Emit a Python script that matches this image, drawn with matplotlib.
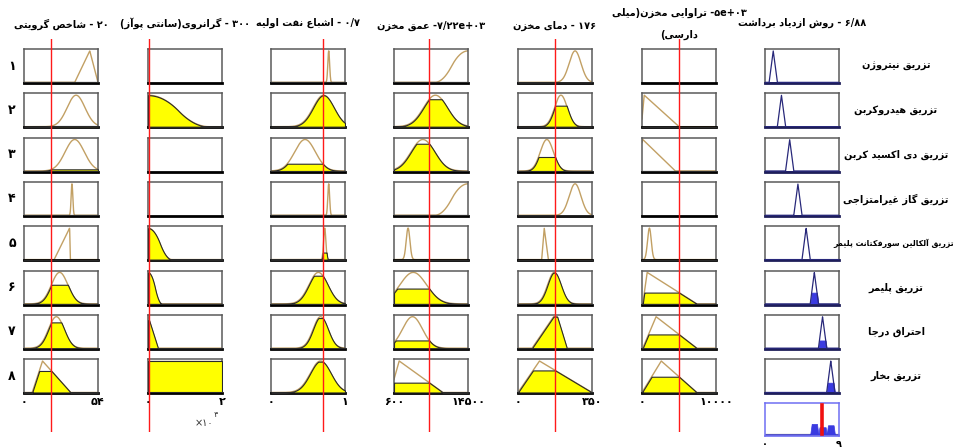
# -*- coding: utf-8 -*-
import matplotlib
matplotlib.use('Agg')
import matplotlib.pyplot as plt
import numpy as np

plt.rcParams['font.family'] = ['DejaVu Sans']

# 1. 数据
# -----------------------------------------------------------
input_names = ['شاخص گرویتی', 'گرانروی(سانتی پوآز)', 'اشباع نفت اولیه',
               'عمق مخزن', 'دمای مخزن', 'تراوایی مخزن(میلی']
title_numbers = ['۲۰', '۳۰۰', '۰/۷', '۷/۲۲e+۰۳', '۱۷۶', '۵e+۰۳']
input_values = [20, 300, 0.7, 7220, 176, 5000]
input_ranges = [(0, 54), (0, 20000), (0, 1), (600, 14500), (0, 350), (0, 10000)]
tick_labels = [('۰', '۵۴'), ('۰', '۲'), ('۰', '۱'), ('۶۰۰', '۱۴۵۰۰'),
               ('۰', '۳۵۰'), ('۰', '۱۰۰۰۰')]

# membership functions per input, one per rule (None = not used)
gravity_mfs = [('tri', [37, 48, 54]), ('gauss', [38, 6.5]), ('gauss', [37, 7]),
               ('gauss', [35, 0.6]), ('tri', [22, 33.3, 33.8]), ('gauss', [26, 6]),
               ('gauss', [23.6, 5.7]), ('tri', [6, 13.5, 34])]
viscosity_mfs = [None, ('zmf', [0, 16500]), None, None, ('zmf', [0, 6500]),
                 ('zmf', [0, 3800]), ('tri', [-1, 0, 2700]), ('const', [1])]
saturation_mfs = [('gauss', [0.78, 0.012]), ('gauss', [0.71, 0.14]),
                  ('gauss', [0.46, 0.14]), ('gauss', [0.78, 0.012]),
                  ('gauss', [0.726, 0.015]), ('gauss', [0.64, 0.127]),
                  ('gauss', [0.67, 0.1]), ('gauss', [0.67, 0.14])]
depth_mfs = [('smf', [8245, 14500]), ('gauss', [8384, 2224]), ('gauss', [6021, 2224]),
             ('smf', [8245, 14500]), ('gauss', [3241, 348]), ('gauss', [4214, 2502]),
             ('gauss', [4075, 1877]), ('tri', [-95, 1573, 9774])]
temperature_mfs = [('gauss', [270, 28]), ('gauss', [203, 30]), ('gauss', [136.5, 31]),
                   ('gauss', [270, 28]), ('tri', [112, 124, 143.5]),
                   ('gauss', [171.5, 31.5]), ('trap', [66.5, 168, 185.5, 231]),
                   ('tri', [0, 101.5, 350])]
permeability_mfs = [None, ('tri', [-100, 300, 5000]), ('tri', [-1000, 100, 4500]), None,
                    ('gauss', [1000, 250]), ('tri', [100, 700, 7400]),
                    ('tri', [100, 1900, 7400]), ('tri', [0, 2600, 7400])]
all_input_mfs = [gravity_mfs, viscosity_mfs, saturation_mfs, depth_mfs,
                 temperature_mfs, permeability_mfs]

output_name = 'روش ازدیاد برداشت'
output_number = '۶/۸۸'
output_value = 6.88
output_range = (0, 9)
output_mfs = [('tri', [0.5, 1, 1.5]), ('tri', [1.5, 2, 2.5]), ('tri', [2.5, 3, 3.5]),
              ('tri', [3.5, 4, 4.5]), ('tri', [4.5, 5, 5.5]), ('tri', [5.5, 6, 6.5]),
              ('tri', [6.5, 7, 7.5]), ('tri', [7.5, 8, 8.5])]
rule_numbers = ['۱', '۲', '۳', '۴', '۵', '۶', '۷', '۸']
rule_labels = ['تزریق نیتروژن', 'تزریق هیدروکربن', 'تزریق دی اکسید کربن',
               'تزریق گاز غیرامتزاجی', 'تزریق آلکالین سورفکتانت پلیمر',
               'تزریق پلیمر', 'احتراق درجا', 'تزریق بخار']


# 2. 波斯文字形处理 (matplotlib 不做阿拉伯文连写)
# -----------------------------------------------------------
_DUAL = {'ب': 0xFE8F, 'ت': 0xFE95, 'ث': 0xFE99, 'ج': 0xFE9D, 'ح': 0xFEA1,
         'خ': 0xFEA5, 'س': 0xFEB1, 'ش': 0xFEB5, 'ص': 0xFEB9, 'ض': 0xFEBD,
         'ط': 0xFEC1, 'ظ': 0xFEC5, 'ع': 0xFEC9, 'غ': 0xFECD, 'ف': 0xFED1,
         'ق': 0xFED5, 'ل': 0xFEDD, 'م': 0xFEE1, 'ن': 0xFEE5, 'ه': 0xFEE9,
         'پ': 0xFB56, 'چ': 0xFB7A, 'ک': 0xFB8E, 'گ': 0xFB92, 'ی': 0xFBFC}
_RIGHT = {'ا': 0xFE8D, 'آ': 0xFE81, 'د': 0xFEA9, 'ذ': 0xFEAB, 'ر': 0xFEAD,
          'ز': 0xFEAF, 'ژ': 0xFB8A, 'و': 0xFEED}


def fa(s):
    out = []
    for i, ch in enumerate(s):
        prev = s[i - 1] if i > 0 else ''
        nxt = s[i + 1] if i + 1 < len(s) else ''
        jp = prev in _DUAL
        if ch in _DUAL:
            jn = nxt in _DUAL or nxt in _RIGHT
            k = 3 if (jp and jn) else 1 if jp else 2 if jn else 0
            out.append(chr(_DUAL[ch] + k))
        elif ch in _RIGHT:
            out.append(chr(_RIGHT[ch] + (1 if jp else 0)))
        else:
            out.append({'(': ')', ')': '('}.get(ch, ch))
    return ''.join(reversed(out))


# 3. 隶属函数
# -----------------------------------------------------------
def mf_eval(mf, x):
    kind, p = mf
    x = np.asarray(x, dtype=float)
    if kind == 'gauss':
        return np.exp(-(x - p[0]) ** 2 / (2 * p[1] ** 2))
    if kind == 'tri':
        return np.interp(x, p, [0, 1, 0], left=0, right=0)
    if kind == 'trap':
        return np.interp(x, p, [0, 1, 1, 0], left=0, right=0)
    if kind == 'const':
        return np.ones_like(x) * p[0]
    a, b = p
    t = np.clip((x - a) / (b - a), 0, 1)
    s = np.where(t < 0.5, 2 * t ** 2, 1 - 2 * (1 - t) ** 2)
    return s if kind == 'smf' else 1 - s


# 4. 布局 (像素)
# -----------------------------------------------------------
W, H = 958, 447
col_x = [24, 148, 271, 394, 518, 642, 765]
box_w = 74
row_y = [49 + 44.3 * i for i in range(8)]
box_h = 34

fig = plt.figure(figsize=(W / 100, H / 100), dpi=100)


def add_px_axes(x0, y0, w, h):
    return fig.add_axes([x0 / W, 1 - (y0 + h) / H, w / W, h / H])


def style_box(ax, edge='#5a5a5a', bottom='black'):
    ax.set_xticks([])
    ax.set_yticks([])
    for k, sp in ax.spines.items():
        sp.set_color(edge)
        sp.set_linewidth(1.1)
    ax.spines['bottom'].set_color(bottom)
    ax.spines['bottom'].set_linewidth(2.0)


YLIM = (-0.02, 1.06)
mf_line = '#c2a064'
firing = np.ones(8)

for c in range(6):
    lo, hi = input_ranges[c]
    xs = np.linspace(lo, hi, 500)
    for r in range(8):
        ax = add_px_axes(col_x[c], row_y[r], box_w, box_h)
        ax.set_xlim(lo, hi)
        ax.set_ylim(*YLIM)
        style_box(ax)
        mf = all_input_mfs[c][r]
        if mf is not None:
            y = mf_eval(mf, xs)
            mu = float(mf_eval(mf, [input_values[c]])[0])
            firing[r] = min(firing[r], mu)
            ax.plot(xs, y, color=mf_line, lw=1.0, zorder=2)
            ax.fill_between(xs, 0, np.minimum(y, mu), facecolor='#ffff00',
                            edgecolor='#2a2a2a', lw=0.8, zorder=3)
        if r == 7:
            ax.set_xticks([lo, hi])
            ax.set_xticklabels(tick_labels[c], fontsize=8, fontweight='bold')
            ax.tick_params(length=0, pad=3)
            if c == 1:
                ax.text(0.88, -0.88, '×۱۰', transform=ax.transAxes, fontsize=7,
                        ha='right', va='center', color='#333')
                ax.text(0.89, -0.62, '۴', transform=ax.transAxes, fontsize=6,
                        ha='left', va='center', color='#333')

# 输出列
lo, hi = output_range
xs = np.linspace(lo, hi, 900)
agg = np.zeros_like(xs)
for r in range(8):
    ax = add_px_axes(col_x[6], row_y[r], box_w, box_h)
    ax.set_xlim(lo, hi)
    ax.set_ylim(*YLIM)
    style_box(ax, bottom='#1e1e5a')
    y = mf_eval(output_mfs[r], xs)
    clipped = np.minimum(y, firing[r])
    agg = np.maximum(agg, clipped)
    ax.fill_between(xs, 0, clipped, facecolor='#3a3ae0', edgecolor='#3a3ae0',
                    lw=0.5, zorder=2)
    ax.plot(xs, y, color='#28287a', lw=0.9, zorder=3)

ax_agg = add_px_axes(col_x[6], 403, box_w, 33)
ax_agg.set_xlim(lo, hi)
ax_agg.set_ylim(-0.05, 1.06)
style_box(ax_agg, edge='#6f6ff2', bottom='#6f6ff2')
ax_agg.spines['bottom'].set_linewidth(1.2)
ax_agg.axhline(0, color='#8c8c8c', lw=1.6, zorder=1)
ax_agg.fill_between(xs, 0, agg, facecolor='#3a3ae0', edgecolor='#3a3ae0',
                    lw=0.5, zorder=2)
ax_agg.axvline(output_value, ymin=0.05, ymax=0.95, color='#f01010', lw=2.6, zorder=4)
ax_agg.set_xticks([lo, hi])
ax_agg.set_xticklabels(['۰', '۹'], fontsize=7, fontweight='bold')
ax_agg.tick_params(length=0, pad=2)

# 红色输入值竖线 (覆盖在最上层)
for c in range(6):
    ov = add_px_axes(col_x[c], 39, box_w, 393)
    ov.set_xlim(*input_ranges[c])
    ov.set_ylim(0, 1)
    ov.axis('off')
    ov.patch.set_alpha(0)
    ov.axvline(input_values[c], color='#ff1a1a', lw=1.0)

# 5. 文字
# -----------------------------------------------------------
title_y = [24, 24, 23, 26, 26, 13, 23]
for c in range(7):
    cx = (col_x[c] + box_w / 2) / W
    if c < 6:
        sep = ' -' if 'e' in title_numbers[c] else ' - '
        txt = fa(input_names[c]) + sep + title_numbers[c]
    else:
        txt = fa(output_name) + ' - ' + output_number
    fig.text(cx, 1 - title_y[c] / H, txt, ha='center', va='center',
             fontsize=7, fontweight='bold')
fig.text((col_x[5] + box_w / 2) / W, 1 - 35 / H, fa('دارسی)'), ha='center',
         va='center', fontsize=7, fontweight='bold')

for r in range(8):
    cy = 1 - (row_y[r] + box_h / 2) / H
    fig.text(12 / W, cy, rule_numbers[r], ha='center', va='center',
             fontsize=9, fontweight='bold')
    if len(rule_labels[r]) > 20:
        fig.text(954 / W, cy, fa(rule_labels[r]), ha='right', va='center',
                 fontsize=5.6, fontweight='bold')
    else:
        fig.text(896 / W, cy, fa(rule_labels[r]), ha='center', va='center',
                 fontsize=7, fontweight='bold')

plt.savefig('out.png', dpi=100)
